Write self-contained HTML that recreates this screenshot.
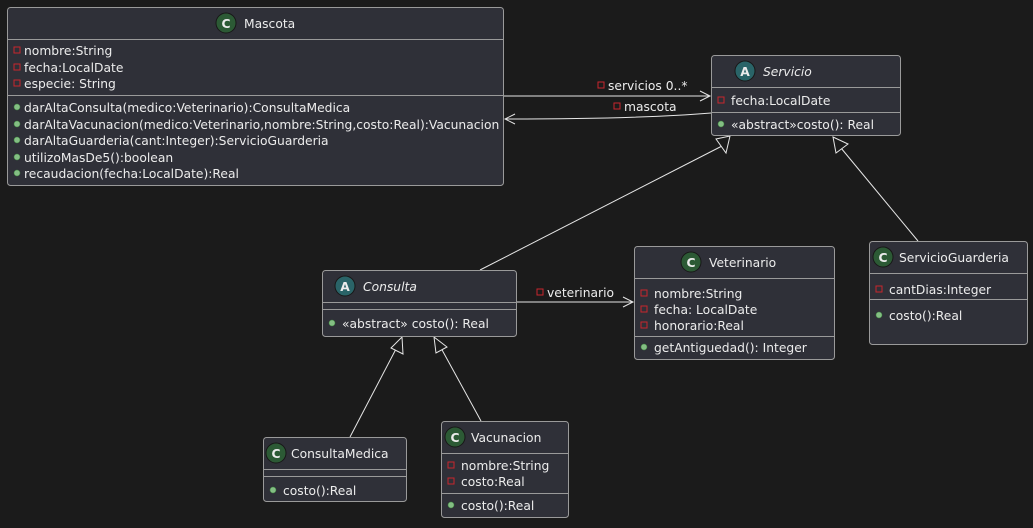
<!DOCTYPE html>
<html><head><meta charset="utf-8"><style>
body{margin:0;background:#1b1b1b;}
svg text{font-family:"DejaVu Sans","Liberation Sans",sans-serif;font-size:12.3px;fill:#ececec;}
</style></head><body>
<svg width="1033" height="523" viewBox="0 0 1033 523" xmlns="http://www.w3.org/2000/svg">
<rect width="1033" height="523" fill="#1b1b1b"/>
<defs>
<g id="priv"><rect x="0" y="-8" width="6" height="6" fill="none" stroke="#c8262d" stroke-width="1"/></g>
<g id="pub"><circle cx="3" cy="-5" r="3" fill="#84be84" stroke="#3f8f3f" stroke-width="0.5"/></g>
</defs>
<g stroke="#e6e6e6" stroke-width="1" fill="none">
<line x1="503" y1="96" x2="709" y2="96"/>
<polyline points="700,91 710,96 700,101"/>
<path d="M711,113 C650,118 560,119 506,119"/>
<polyline points="515,114 505,119 515,124"/>
<line x1="516" y1="302" x2="632" y2="302"/>
<polyline points="623,297 633,302 623,307"/>
<line x1="480" y1="270" x2="722" y2="146"/>
<polygon points="730,136 726,153 716,139" fill="#1b1b1b"/>
<line x1="918" y1="241" x2="841" y2="148"/>
<polygon points="833,137 848,144 836,153" fill="#1b1b1b"/>
<line x1="350" y1="437" x2="396" y2="349"/>
<polygon points="402,337 403,354 391,348" fill="#1b1b1b"/>
<line x1="481" y1="421" x2="441" y2="348"/>
<polygon points="434,337 447,347 436,353" fill="#1b1b1b"/>
</g>
<use href="#priv" x="598" y="90"/><text x="608" y="90">servicios 0..*</text>
<use href="#priv" x="614" y="111"/><text x="624" y="111">mascota</text>
<use href="#priv" x="537" y="297"/><text x="547" y="297">veterinario</text>

<g stroke="#9a9a9a" stroke-width="1" fill="#2f3038">
<rect x="7.5" y="7.5" width="496" height="178" rx="3"/>
<rect x="711.5" y="55.5" width="189" height="80" rx="3"/>
<rect x="322.5" y="270.5" width="194" height="66" rx="3"/>
<rect x="634.5" y="246.5" width="200" height="113" rx="3"/>
<rect x="869.5" y="241.5" width="158" height="103" rx="3"/>
<rect x="263.5" y="437.5" width="143" height="64" rx="3"/>
<rect x="441.5" y="421.5" width="127" height="96" rx="3"/>
</g>
<g stroke="#9a9a9a" stroke-width="1">
<line x1="7" y1="39.5" x2="504" y2="39.5"/><line x1="7" y1="95.5" x2="504" y2="95.5"/>
<line x1="711" y1="87.5" x2="901" y2="87.5"/><line x1="711" y1="112.5" x2="901" y2="112.5"/>
<line x1="322" y1="302.5" x2="517" y2="302.5"/><line x1="322" y1="309.5" x2="517" y2="309.5"/>
<line x1="634" y1="278.5" x2="835" y2="278.5"/><line x1="634" y1="336.5" x2="835" y2="336.5"/>
<line x1="869" y1="273.5" x2="1028" y2="273.5"/><line x1="869" y1="299.5" x2="1028" y2="299.5"/>
<line x1="263" y1="469.5" x2="407" y2="469.5"/><line x1="263" y1="476.5" x2="407" y2="476.5"/>
<line x1="441" y1="453.5" x2="569" y2="453.5"/><line x1="441" y1="493.5" x2="569" y2="493.5"/>
</g>
<g stroke="#181818" stroke-width="1">
<circle cx="226" cy="23" r="10" fill="#2c5a35"/>
<circle cx="745" cy="71" r="10" fill="#2a6468"/>
<circle cx="345" cy="286" r="10" fill="#2a6468"/>
<circle cx="691" cy="262" r="10" fill="#2c5a35"/>
<circle cx="883" cy="257" r="10" fill="#2c5a35"/>
<circle cx="276" cy="453" r="10" fill="#2c5a35"/>
<circle cx="455" cy="437" r="10" fill="#2c5a35"/>
</g>
<g font-weight="bold" text-anchor="middle" style="font-size:13px">
<text x="226" y="28">C</text><text x="745" y="76">A</text><text x="345" y="291">A</text>
<text x="691" y="267">C</text><text x="883" y="262">C</text><text x="276" y="458">C</text><text x="455" y="442">C</text>
</g>
<text x="244" y="28">Mascota</text>
<text x="763" y="76" font-style="italic">Servicio</text>
<text x="363" y="291" font-style="italic">Consulta</text>
<text x="709" y="267">Veterinario</text>
<text x="899" y="262">ServicioGuarderia</text>
<text x="291" y="458">ConsultaMedica</text>
<text x="471" y="442">Vacunacion</text>

<use href="#priv" x="14" y="55"/><text x="24" y="55">nombre:String</text>
<use href="#priv" x="14" y="72"/><text x="24" y="72">fecha:LocalDate</text>
<use href="#priv" x="14" y="88"/><text x="24" y="88">especie: String</text>
<use href="#pub" x="14" y="112"/><text x="24" y="112">darAltaConsulta(medico:Veterinario):ConsultaMedica</text>
<use href="#pub" x="14" y="129"/><text x="24" y="129">darAltaVacunacion(medico:Veterinario,nombre:String,costo:Real):Vacunacion</text>
<use href="#pub" x="14" y="145"/><text x="24" y="145">darAltaGuarderia(cant:Integer):ServicioGuarderia</text>
<use href="#pub" x="14" y="162"/><text x="24" y="162">utilizoMasDe5():boolean</text>
<use href="#pub" x="14" y="178"/><text x="24" y="178">recaudacion(fecha:LocalDate):Real</text>

<use href="#priv" x="718" y="105"/><text x="731" y="105">fecha:LocalDate</text>
<use href="#pub" x="718" y="129"/><text x="731" y="129">«abstract»costo(): Real</text>

<use href="#pub" x="329" y="328"/><text x="342" y="328">«abstract» costo(): Real</text>

<use href="#priv" x="641" y="298"/><text x="654" y="298">nombre:String</text>
<use href="#priv" x="641" y="314"/><text x="654" y="314">fecha: LocalDate</text>
<use href="#priv" x="641" y="330"/><text x="654" y="330">honorario:Real</text>
<use href="#pub" x="641" y="352"/><text x="654" y="352">getAntiguedad(): Integer</text>

<use href="#priv" x="876" y="294"/><text x="889" y="294">cantDias:Integer</text>
<use href="#pub" x="876" y="320"/><text x="889" y="320">costo():Real</text>

<use href="#pub" x="270" y="495"/><text x="283" y="495">costo():Real</text>

<use href="#priv" x="448" y="470"/><text x="461" y="470">nombre:String</text>
<use href="#priv" x="448" y="486"/><text x="461" y="486">costo:Real</text>
<use href="#pub" x="448" y="510"/><text x="461" y="510">costo():Real</text>
</svg>
</body></html>
